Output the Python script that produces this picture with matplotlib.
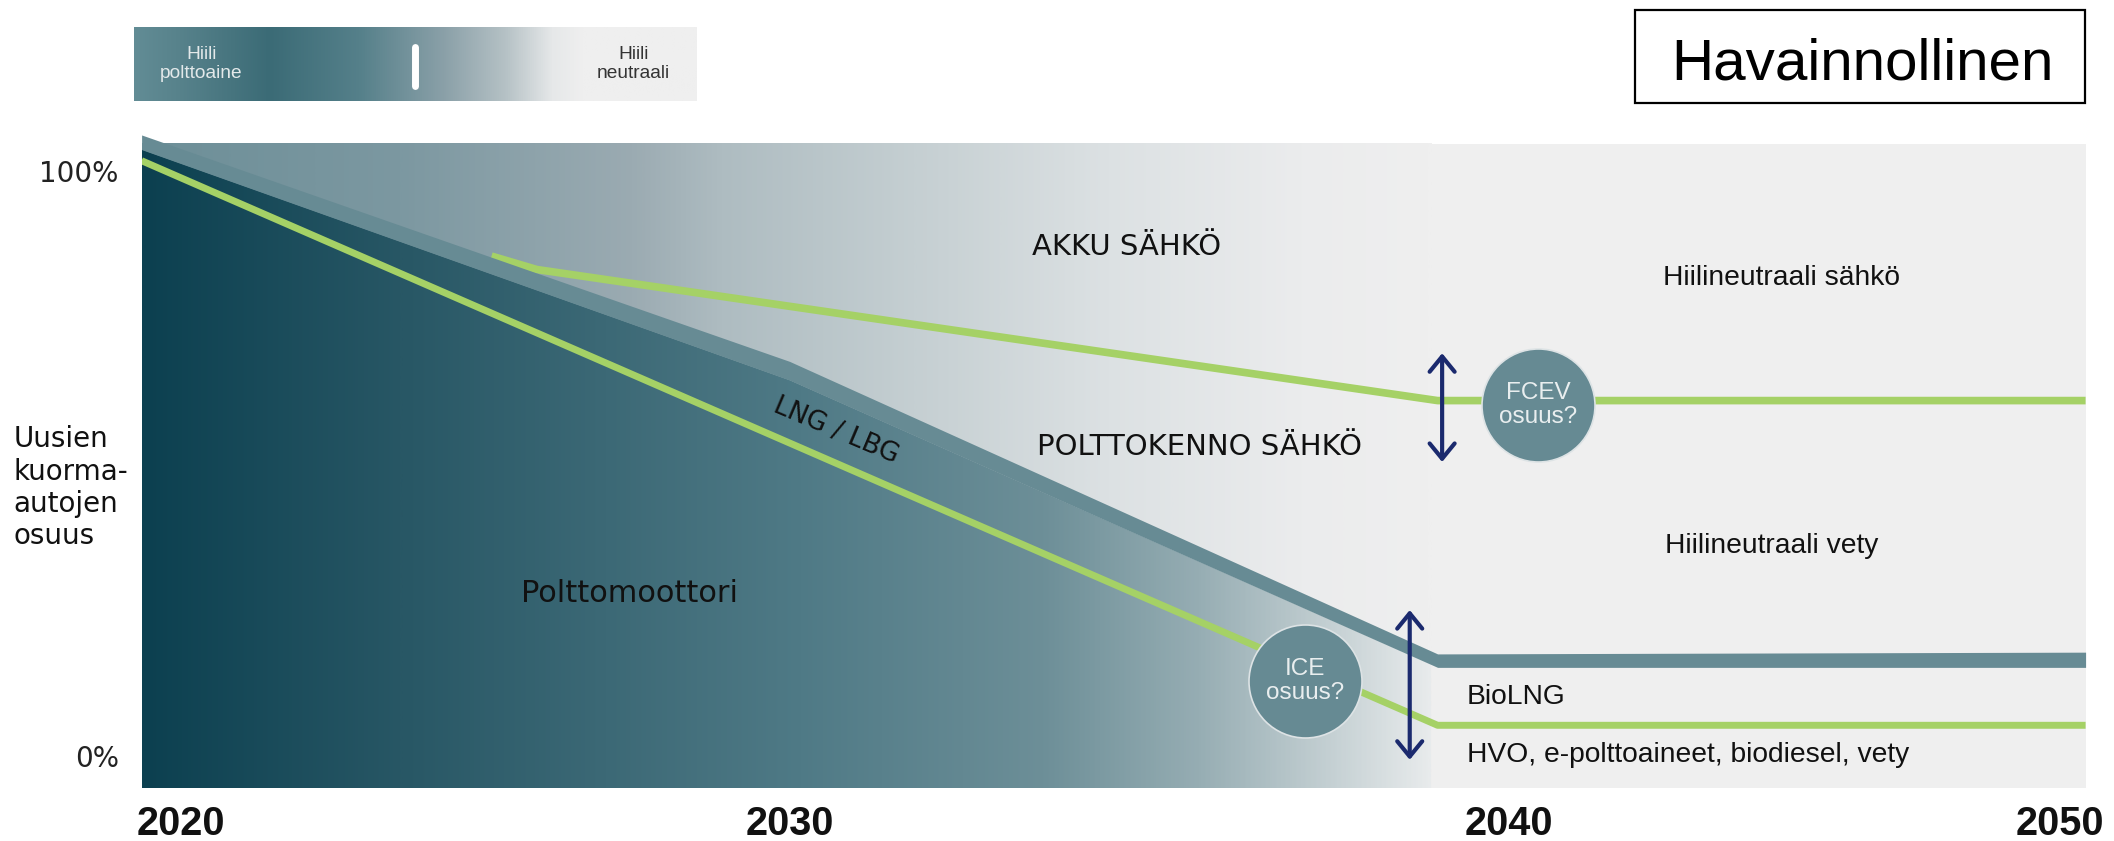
import numpy as np
import matplotlib
matplotlib.use('Agg')
import matplotlib.pyplot as plt
from matplotlib.colors import LinearSegmentedColormap
from matplotlib.patches import Polygon, Rectangle
from matplotlib import font_manager

# share of new trucks (%) by year
band_years = [2020, 2030, 2040, 2050]          # LNG / LBG band
band_top = [106.2, 67.5, 17.5, 17.8]
band_bottom = [103.7, 64.3, 15.2, 15.2]

ice_years = [2020, 2040, 2050]                  # ICE / HVO line
ice_share = [101.8, 5.3, 5.3]

bev_years = [2025.4, 2026.1, 2040.0, 2050]      # battery / fuel cell line
bev_share = [85.5, 83.2, 60.8, 60.8]

year_ticks = [2020.6, 2030.0, 2041.1, 2049.6]
year_labels = ['2020', '2030', '2040', '2050']
share_ticks = [0, 100]
share_labels = ['0%', '100%']

gradient_end = 2039.9
y_bottom, y_top = -5.5, 104.6

green = '#a5d166'
band_col = '#678b94'
navy = '#1b2a6e'
circle_col = '#668a93'
bg = '#efefef'

names = {f.name for f in font_manager.fontManager.ttflist}
has_narrow = 'Liberation Sans Narrow' in names
narrow = 'Liberation Sans Narrow' if has_narrow else 'Liberation Sans'
narrow_size = 24 if has_narrow else 20.3
arial = 'Liberation Sans'
plt.rcParams['font.family'] = ['DejaVu Sans']

upper_cmap = LinearSegmentedColormap.from_list('upper', [
    (0, '#6d8f98'), (0.2, '#7c98a1'), (0.38, '#9babb2'), (0.45, '#aebcc1'),
    (0.6, '#c5cfd2'), (0.75, '#dce1e3'), (0.9, '#ebeced'), (1, '#efefef')])
dark_cmap = LinearSegmentedColormap.from_list('dark', [
    (0, '#0c4050'), (0.2, '#285765'), (0.51, '#4f7a86'), (0.7, '#6d8f98'),
    (0.82, '#96adb3'), (0.92, '#c3cfd2'), (1, '#e8ebec')])
legend_cmap = LinearSegmentedColormap.from_list('legend', [
    (0, '#628c95'), (0.08, '#57828b'), (0.24, '#3b6b76'), (0.4, '#55808a'),
    (0.55, '#8aa0a8'), (0.66, '#b5c1c5'), (0.745, '#e6e8e9'), (0.8, '#efefef'),
    (1, '#efefef')])

fig = plt.figure(figsize=(21.14, 8.41), dpi=100)
ax = fig.add_axes([0.06698, 0.06231, 0.91958, 0.7793])

grad = np.linspace(0, 1, 512)[None, :]

ax.add_patch(Rectangle((2020, y_bottom), 30, y_top - y_bottom, color=bg, lw=0, zorder=0))
ax.imshow(grad, cmap=upper_cmap, extent=[2020, gradient_end, y_bottom, y_top],
          aspect='auto', zorder=1, interpolation='bilinear')

# dark area under the band
end_top = np.interp(gradient_end, band_years, band_bottom)
poly_x = [2020, 2020] + [yr for yr in band_years if yr < gradient_end][1:] + [gradient_end, gradient_end]
poly_y = [y_bottom, band_bottom[0]] + [b for yr, b in zip(band_years, band_bottom) if yr < gradient_end][1:] + [end_top, y_bottom]
clip = Polygon(list(zip(poly_x, poly_y)), closed=True, fc='none', ec='none')
ax.add_patch(clip)
im = ax.imshow(grad, cmap=dark_cmap, extent=[2020, gradient_end, y_bottom, y_top],
               aspect='auto', zorder=2, interpolation='bilinear')
im.set_clip_path(clip)

ax.plot(bev_years, bev_share, color=green, lw=5.5, solid_capstyle='butt', zorder=3)
ax.fill_between(band_years, band_bottom, band_top, color=band_col, lw=0, zorder=4, clip_on=False)
ax.plot(ice_years, ice_share, color=green, lw=5, solid_capstyle='butt', zorder=5)

# circles
ax.scatter([2041.55], [60.0], s=6620, color=circle_col, edgecolors='#dde3e5', linewidths=1.2, zorder=6)
ax.scatter([2037.95], [12.9], s=6620, color=circle_col, edgecolors='#dde3e5', linewidths=1.2, zorder=6)
ax.text(2041.55, 60.0, 'FCEV\nosuus?', ha='center', va='center', fontsize=17.5, family=arial,
        color='#e9eeef', linespacing=1.1, zorder=7)
ax.text(2037.95, 12.9, 'ICE\nosuus?', ha='center', va='center', fontsize=17.5, family=arial,
        color='#e9eeef', linespacing=1.1, zorder=7)

# double arrows
for x, y0, y1 in [(2040.07, 50.3, 68.9), (2039.57, -0.6, 25.0)]:
    ax.annotate('', xy=(x, y1), xytext=(x, y0),
                arrowprops=dict(arrowstyle='<->,head_length=0.55,head_width=0.45', lw=3,
                                color=navy, mutation_scale=20, shrinkA=0, shrinkB=0,
                                capstyle='round', joinstyle='round'), zorder=8)

# labels
ax.text(2035.2, 87.1, 'AKKU SÄHKÖ', ha='center', va='center', fontsize=21, color='#111111')
ax.text(2036.33, 52.8, 'POLTTOKENNO SÄHKÖ', ha='center', va='center', fontsize=21, color='#111111')
ax.text(2027.53, 27.9, 'Polttomoottori', ha='center', va='center', fontsize=22, color='#111111')
ax.text(2030.71, 55.6, 'LNG / LBG', ha='center', va='center', fontsize=19, rotation=-23,
        rotation_mode='anchor', color='#111111', zorder=6)
ax.text(2045.3, 81.8, 'Hiilineutraali sähkö', ha='center', va='center', fontsize=narrow_size,
        family=narrow, color='#111111')
ax.text(2045.15, 35.9, 'Hiilineutraali vety', ha='center', va='center', fontsize=narrow_size,
        family=narrow, color='#111111')
ax.text(2040.45, 10.1, 'BioLNG', ha='left', va='center', fontsize=narrow_size, family=narrow,
        color='#111111')
ax.text(2040.45, 0.2, 'HVO, e-polttoaineet, biodiesel, vety', ha='left', va='center',
        fontsize=narrow_size, family=narrow, color='#111111')
ax.text(2018.02, 45.9, 'Uusien\nkuorma-\nautojen\nosuus', ha='left', va='center', fontsize=20,
        linespacing=1.2, color='#111111', clip_on=False)

ax.set_xlim(2020, 2050)
ax.set_ylim(-5.52, 106.5)
for s in ax.spines.values():
    s.set_visible(False)
ax.set_xticks(year_ticks, year_labels)
ax.set_yticks(share_ticks, share_labels)
ax.tick_params(axis='x', length=0, pad=12)
ax.tick_params(axis='y', length=0, pad=16.5)
for lab in ax.get_xticklabels():
    lab.set_fontfamily(arial)
    lab.set_fontweight('bold')
    lab.set_fontsize(28.5)
    lab.set_color('#111111')
for lab in ax.get_yticklabels():
    lab.set_fontsize(20)
    lab.set_color('#222222')

# gradient key at top left
lax = fig.add_axes([134 / 2114, 1 - 101 / 841, 563 / 2114, 74 / 841])
lax.imshow(grad, cmap=legend_cmap, extent=[0, 1, 0, 1], aspect='auto', interpolation='bilinear')
lax.plot([0.4998, 0.4998], [0.2, 0.735], color='white', lw=5, solid_capstyle='round')
lax.text(0.1195, 0.5, 'Hiili\npolttoaine', ha='center', va='center', multialignment='center',
         fontsize=13.8, family=arial, color='#e3e9ea')
lax.text(0.887, 0.5, 'Hiili\nneutraali', ha='center', va='center', multialignment='center',
         fontsize=13.8, family=arial, color='#333333')
lax.set_xlim(0, 1)
lax.set_ylim(0, 1)
lax.axis('off')

# "Havainnollinen" box
fig.add_artist(Rectangle((1635 / 2114, 1 - 103 / 841), 450 / 2114, 93 / 841,
                         transform=fig.transFigure, fill=False, lw=1.6, ec='black'))
fig.text(1862.5 / 2114, 1 - 80 / 841, 'Havainnollinen', ha='center', va='baseline',
         fontsize=42, family=arial, color='black')

fig.savefig('out.png', dpi=100)
